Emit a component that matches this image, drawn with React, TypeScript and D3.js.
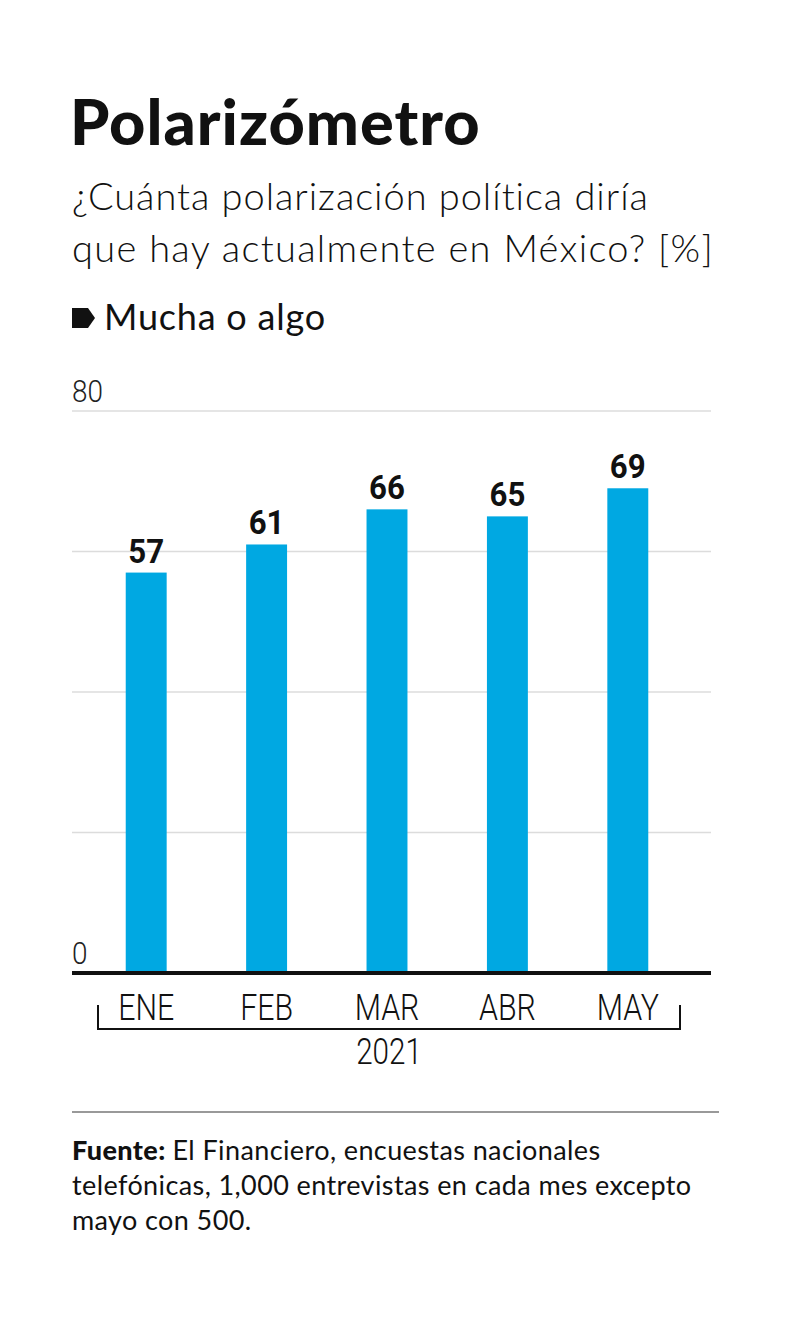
import React, { useEffect, useRef } from 'react';
import * as d3 from 'd3';

const months = ['ENE', 'FEB', 'MAR', 'ABR', 'MAY'];
const values = [57, 61, 66, 65, 69];
const gridTicks = [0, 20, 40, 60, 80];
const labeledTicks = [0, 80];
const yearLabel = '2021';

const TITLE = 'Polarizómetro';
const SUBTITLE = ['¿Cuánta polarización política diría', 'que hay actualmente en México? [%]'];
const LEGEND = 'Mucha o algo';
const SOURCE_LINES = [
  'El Financiero, encuestas nacionales',
  'telefónicas, 1,000 entrevistas en cada mes excepto',
  'mayo con 500.',
];

const FONT = 'Lato, "Open Sans", sans-serif';
const NARROW = 'Roboto, "DejaVu Sans Condensed", sans-serif';

const App: React.FC = () => {
  const svgRef = useRef<SVGSVGElement>(null);

  useEffect(() => {
    if (!svgRef.current) return;
    const svg = d3.select(svgRef.current);
    svg.selectAll('*').remove();

    const left = 72;
    const right = 711;

    // condensed text helper: squeeze horizontally around the anchor point
    const narrowText = (
      g: d3.Selection<SVGSVGElement, unknown, null, undefined>,
      x: number, y: number, txt: string | number,
      size: number, weight: string, sx: number, anchor = 'middle', fill = '#111'
    ) => g.append('text')
      .attr('transform', `translate(${x},${y}) scale(${sx},1)`)
      .attr('text-anchor', anchor)
      .style('font-family', NARROW).style('font-weight', weight)
      .style('font-size', `${size}px`).style('fill', fill)
      .text(txt);

    // Header
    svg.append('text')
      .attr('x', left - 2).attr('y', 145)
      .style('font-family', FONT).style('font-weight', '900')
      .style('font-size', '63px').style('fill', '#111')
      .style('letter-spacing', '1px')
      .text(TITLE);

    svg.selectAll('.sub')
      .data(SUBTITLE)
      .enter().append('text')
      .attr('class', 'sub')
      .attr('x', left).attr('y', (_, i) => 210 + i * 52)
      .style('font-family', FONT).style('font-weight', '300')
      .style('font-size', '38px').style('fill', '#111')
      .style('letter-spacing', (_, i) => (i === 0 ? '0.95px' : '1.3px'))
      .text(d => d);

    // Legend
    svg.append('path')
      .attr('d', 'M72,308 L88,308 L95,318 L88,328 L72,328 Z')
      .attr('fill', '#111');
    svg.append('text')
      .attr('x', 104).attr('y', 330)
      .style('font-family', FONT).style('font-weight', '400')
      .style('font-size', '36px').style('fill', '#111')
      .style('letter-spacing', '0.8px')
      .text(LEGEND);

    // Scales
    const y = d3.scaleLinear().domain([0, 80]).range([973, 411]);
    const x = d3.scaleBand<string>()
      .domain(months)
      .range([86, 688])
      .paddingInner(0.66)
      .paddingOuter(0.33);

    // Grid
    svg.selectAll('.grid')
      .data(gridTicks.filter(t => t !== 0))
      .enter().append('line')
      .attr('class', 'grid')
      .attr('x1', left).attr('x2', right)
      .attr('y1', d => y(d)).attr('y2', d => y(d))
      .attr('stroke', '#dcdcdc').attr('stroke-width', 1.5);

    labeledTicks.forEach(t => narrowText(svg, left, y(t) - 9, t, 31, '300', 0.9, 'start', '#222'));

    // Bars
    svg.selectAll('.bar')
      .data(values)
      .enter().append('rect')
      .attr('class', 'bar')
      .attr('x', (_, i) => x(months[i])!)
      .attr('width', x.bandwidth())
      .attr('y', d => y(d))
      .attr('height', d => y(0) - y(d))
      .attr('fill', '#00a8e2');

    values.forEach((v, i) =>
      narrowText(svg, x(months[i])! + x.bandwidth() / 2, y(v) - 10, v, 34, '700', 0.92));

    // Baseline
    svg.append('line')
      .attr('x1', left).attr('x2', right)
      .attr('y1', y(0)).attr('y2', y(0))
      .attr('stroke', '#111').attr('stroke-width', 4);

    // Month labels
    months.forEach(m => narrowText(svg, x(m)! + x.bandwidth() / 2, 1020, m, 37, '300', 0.82));

    // Year bracket
    const bx0 = 98;
    const bx1 = 680;
    svg.append('path')
      .attr('d', `M${bx0},1005 L${bx0},1029 L${bx1},1029 L${bx1},1005`)
      .attr('fill', 'none').attr('stroke', '#111').attr('stroke-width', 2);
    narrowText(svg, (bx0 + bx1) / 2, 1064, yearLabel, 37, '300', 0.8);

    // Footer
    svg.append('line')
      .attr('x1', left).attr('x2', 719)
      .attr('y1', 1112).attr('y2', 1112)
      .attr('stroke', '#777').attr('stroke-width', 1.5);

    const src = svg.selectAll('.src')
      .data(SOURCE_LINES)
      .enter().append('text')
      .attr('class', 'src')
      .attr('x', left).attr('y', (_, i) => 1160 + i * 35)
      .style('font-family', FONT).style('font-weight', '400')
      .style('font-size', '27px').style('fill', '#111')
      .style('letter-spacing', '0.4px');
    src.filter((_, i) => i === 0).append('tspan')
      .style('font-weight', '900')
      .text('Fuente: ');
    src.append('tspan').text(d => d);
  }, []);

  return (
    <svg ref={svgRef} width={800} height={1321} viewBox="0 0 800 1321"
      style={{ position: 'absolute', left: 0, top: 0, display: 'block', background: '#fff' }} />
  );
};

export default App;
